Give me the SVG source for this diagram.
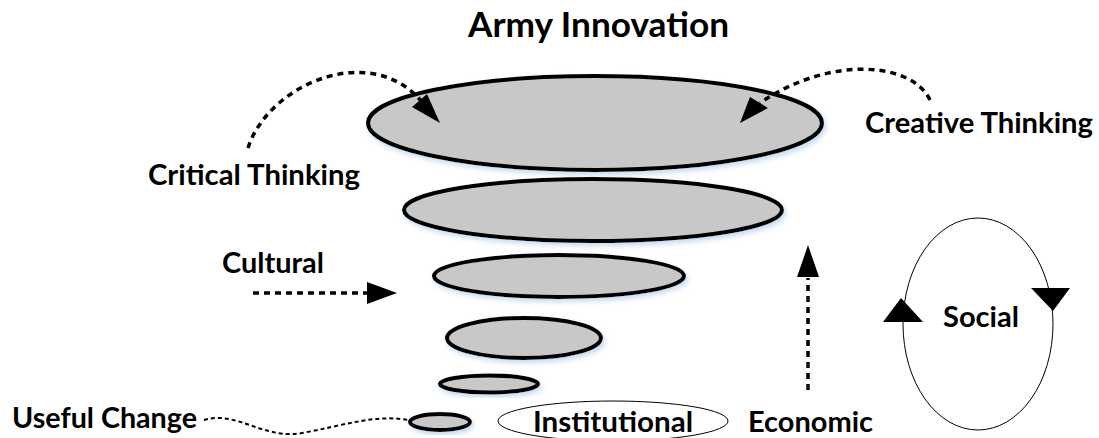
<svg xmlns="http://www.w3.org/2000/svg" width="1099" height="438" viewBox="0 0 1099 438">
<style>
text{font-family:Lato,"Open Sans","Liberation Sans",sans-serif;font-weight:bold;fill:#000}
.lbl{font-size:28.5px}
.disk{fill:#c8c8c8;stroke:#000;stroke-width:4;filter:url(#sh)}
.thin{fill:#fff;stroke:#000;stroke-width:1}
.dash{fill:none;stroke:#000;stroke-width:3.5;stroke-dasharray:6 5}
.fine{fill:none;stroke:#000;stroke-width:2;stroke-dasharray:4 3}
</style>
<defs>
<filter id="sh" x="-10%" y="-30%" width="120%" height="160%">
<feDropShadow dx="2" dy="3" stdDeviation="2.5" flood-color="#9fc3e6" flood-opacity="0.6"/>
</filter>
</defs>
<text x="468" y="37" style="font-size:34px" textLength="261" lengthAdjust="spacingAndGlyphs">Army Innovation</text>
<g id="disk1"><ellipse class="disk" cx="595" cy="123" rx="227" ry="47"/></g>
<g id="disk2"><ellipse class="disk" cx="593" cy="210" rx="189" ry="31"/></g>
<g id="disk3"><ellipse class="disk" cx="559" cy="276" rx="125" ry="21"/></g>
<g id="disk4"><ellipse class="disk" cx="524" cy="338" rx="77" ry="20"/></g>
<g id="disk5"><ellipse class="disk" cx="489" cy="384" rx="49" ry="8.5"/></g>
<g id="disk6"><ellipse class="disk" cx="440" cy="422" rx="30" ry="8"/></g>
<g id="institutional"><ellipse class="thin" cx="613" cy="421" rx="115" ry="20"/><text class="lbl" x="533" y="432" textLength="160" lengthAdjust="spacingAndGlyphs">Institutional</text></g>
<g id="economic"><text class="lbl" x="748" y="432" textLength="125" lengthAdjust="spacingAndGlyphs">Economic</text></g>
<g id="social">
<ellipse cx="978" cy="324" rx="75" ry="106" fill="none" stroke="#000" stroke-width="1"/>
<path d="M901,298 L923,322 L883,322 z" fill="#000"/>
<path d="M1031,288 L1070,288 L1053,311 z" fill="#000"/>
<text class="lbl" x="943" y="327" textLength="76" lengthAdjust="spacingAndGlyphs">Social</text>
</g>
<g id="critical"><text class="lbl" x="148" y="185" textLength="212" lengthAdjust="spacingAndGlyphs">Critical Thinking</text></g>
<g id="creative"><text class="lbl" x="865" y="133" textLength="228" lengthAdjust="spacingAndGlyphs">Creative Thinking</text></g>
<g id="cultural"><text class="lbl" x="222" y="273" textLength="102" lengthAdjust="spacingAndGlyphs">Cultural</text></g>
<g id="useful"><text class="lbl" x="12" y="428" textLength="185" lengthAdjust="spacingAndGlyphs">Useful Change</text></g>
<g id="connectors">
<path class="dash" d="M248,148 C268,85 370,40 422,102"/>
<path d="M440,123 L412,107 L427,94 z" fill="#000"/>
<path class="dash" d="M930,100 C912,62 830,55 760,103"/>
<path d="M740,123 L750,97 L768,108 z" fill="#000"/>
<path class="dash" d="M253,293 L368,293"/>
<path d="M397,293 L367,282 L367,304 z" fill="#000"/>
<path class="dash" d="M808,390 L808,278"/>
<path d="M808,245 L797,277 L819,277 z" fill="#000"/>
<path class="fine" d="M204,420 C236,410 264,440 302,433 C342,426 374,414 408,420"/>
</g>
</svg>
